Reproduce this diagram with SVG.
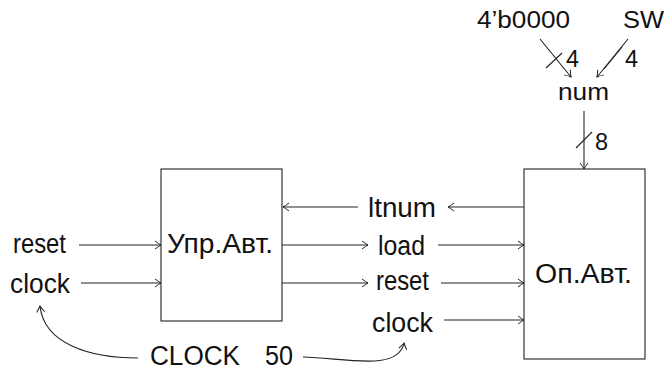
<svg xmlns="http://www.w3.org/2000/svg" width="668" height="371" viewBox="0 0 668 371">
<style>
text{font-family:"Liberation Sans","DejaVu Sans",sans-serif;fill:#111}
.m{font-size:27px}
.s{font-size:23.5px}
.box{fill:#fff;stroke:#222;stroke-width:1.1}
.ln{fill:none;stroke:#222;stroke-width:1.1}
.a{marker-end:url(#arr)}
</style>
<defs>
<marker id="arr" markerUnits="userSpaceOnUse" markerWidth="12" markerHeight="12" viewBox="-8 -6 10 12" refX="0" refY="0" orient="auto">
<path d="M-6,-4 Q-2,-1 0,0 Q-2,1 -6,4" fill="none" stroke="#222" stroke-width="1"/>
</marker>
</defs>
<g id="ctrl">
<rect class="box" x="161" y="169" width="121" height="152"/>
<text class="m" x="167" y="253" textLength="106" lengthAdjust="spacingAndGlyphs">Упр.Авт.</text>
</g>
<g id="data">
<rect class="box" x="524" y="169" width="121" height="190"/>
<text class="m" x="535" y="283" textLength="97" lengthAdjust="spacingAndGlyphs">Оп.Авт.</text>
</g>
<g id="labels">
<text class="s" x="477" y="28" textLength="93" lengthAdjust="spacingAndGlyphs">4’b0000</text>
<text class="s" x="623" y="28" textLength="41" lengthAdjust="spacingAndGlyphs">SW</text>
<text class="s" x="566" y="67">4</text>
<text class="s" x="625" y="67">4</text>
<text class="s" x="558" y="100" textLength="51" lengthAdjust="spacingAndGlyphs">num</text>
<text class="s" x="595" y="150">8</text>
<text class="m" x="368" y="217" textLength="68" lengthAdjust="spacingAndGlyphs">ltnum</text>
<text class="m" x="378" y="255" textLength="47" lengthAdjust="spacingAndGlyphs">load</text>
<text class="m" x="376" y="290" textLength="53" lengthAdjust="spacingAndGlyphs">reset</text>
<text class="m" x="372" y="332" textLength="61" lengthAdjust="spacingAndGlyphs">clock</text>
<text class="m" x="13" y="253" textLength="53" lengthAdjust="spacingAndGlyphs">reset</text>
<text class="m" x="10" y="293" textLength="60" lengthAdjust="spacingAndGlyphs">clock</text>
<text class="m" x="150" y="365" textLength="90" lengthAdjust="spacingAndGlyphs">CLOCK</text>
<text class="m" x="265" y="365" textLength="28" lengthAdjust="spacingAndGlyphs">50</text>
</g>
<g id="connectors">
<path class="ln a" d="M540,39 L571,77"/>
<path class="ln" d="M546,68 L562,53"/>
<path class="ln a" d="M628,39 L597,77"/>
<path class="ln" d="M604,69 L622,47"/>
<path class="ln a" d="M584,111 L584,169"/>
<path class="ln" d="M576,148 L592,132"/>
<path class="ln a" d="M524,207 L448,207"/>
<path class="ln a" d="M358,207 L283,207"/>
<path class="ln a" d="M282,245 L368,245"/>
<path class="ln a" d="M438,245 L524,245"/>
<path class="ln a" d="M282,283 L368,283"/>
<path class="ln a" d="M441,283 L524,283"/>
<path class="ln a" d="M444,320 L524,320"/>
<path class="ln a" d="M79,245 L161,245"/>
<path class="ln a" d="M81,283 L161,283"/>
<path class="ln a" d="M138,358 C90,358 44,344 40,306"/>
<path class="ln a" d="M303,357 C345,358 398,372 404,343"/>
</g>
</svg>
